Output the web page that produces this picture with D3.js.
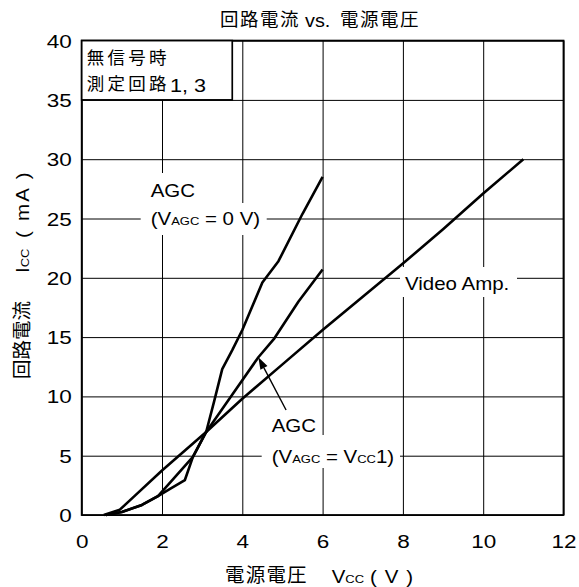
<!DOCTYPE html>
<html>
<head>
<meta charset="utf-8">
<script src="https://cdn.jsdelivr.net/npm/d3@7"></script>
<style>
  html, body { margin: 0; padding: 0; background: #fff; }
  svg { display: block; }
</style>
</head>
<body>
<svg id="chart" width="579" height="587"></svg>
<script>
// Supply voltage (V) vs. circuit current (mA)
const xTicks = [0, 2, 4, 6, 8, 10, 12];
const yTicks = [0, 5, 10, 15, 20, 25, 30, 35, 40];

// [Vcc (V), Icc (mA)]
const videoAmp = [
  [0.55, 0], [0.95, 0.45], [1.3, 1.55], [2, 3.75], [3.1, 7.0], [4, 9.8],
  [5, 12.7], [6, 15.6], [7, 18.4], [8, 21.2], [9, 24.1], [10, 27.1], [11, 30]
];
const agcZero = [
  [0.6, 0], [1, 0.25], [1.5, 0.85], [1.9, 1.6], [2.2, 2.2], [2.57, 2.95],
  [2.77, 4.9], [3.1, 7.0], [3.3, 9.6], [3.5, 12.3], [3.75, 13.9], [4, 15.6],
  [4.25, 17.6], [4.5, 19.6], [4.9, 21.4], [5.5, 25.4], [6, 28.5]
];
const agcVcc1 = [
  [0.6, 0], [1, 0.25], [1.5, 0.85], [1.9, 1.6], [2.3, 3.1], [2.77, 4.9],
  [3.1, 7.0], [3.7, 9.9], [4.4, 13.3], [4.8, 14.9], [5.4, 18.0], [6, 20.7]
];
// arrow pointing at the VAGC = Vcc1 curve: [tail, tip]
const arrowPts = [[5.09, 8.85], [4.4, 13.3]];
// note box corner (data units)
const noteBox = { x0: 0, x1: 3.75, y0: 35, y1: 40 };

const LAT = '"Liberation Sans", Arial, Helvetica, sans-serif';
const CJK = '"Noto Sans CJK JP", "Noto Sans CJK SC", sans-serif';

const svg = d3.select("#chart");
const x = d3.scaleLinear().domain([0, 12]).range([81.7, 563.5]);
const y = d3.scaleLinear().domain([0, 40]).range([515, 40.6]);
const pw = x(12) - x(0), ph = y(0) - y(40);

// grid + tick labels via axes
const gx = svg.append("g")
  .attr("transform", `translate(0,${y(0)})`)
  .call(d3.axisBottom(x).tickValues(xTicks).tickSize(-ph).tickFormat(d3.format("d")));
const gy = svg.append("g")
  .attr("transform", `translate(${x(0)},0)`)
  .call(d3.axisLeft(y).tickValues(yTicks).tickSize(-pw).tickFormat(d3.format("d")));

[gx, gy].forEach(g => {
  g.select(".domain").remove();
  g.selectAll(".tick line").attr("stroke", "#000").attr("stroke-width", 1);
  g.selectAll(".tick text")
    .attr("fill", "#000")
    .style("font-family", LAT)
    .style("font-size", "18px");
});
gx.selectAll(".tick text")
  .attr("y", null).attr("dy", null)
  .attr("text-anchor", "middle")
  .attr("transform", "translate(0,33) scale(1.25,1)");
gy.selectAll(".tick text")
  .attr("x", null).attr("dy", null)
  .attr("text-anchor", "end")
  .attr("transform", "translate(-10,6.5) scale(1.25,1)");

// white backgrounds behind in-plot labels
const blanks = [
  [141, 173, 59, 30],
  [140.7, 203, 126, 32],
  [400, 267, 117, 30],
  [265, 412, 54, 23],
  [261.7, 435, 138.3, 33]
];
svg.append("g").selectAll("rect").data(blanks).join("rect")
  .attr("x", d => d[0]).attr("y", d => d[1])
  .attr("width", d => d[2]).attr("height", d => d[3])
  .attr("fill", "#fff");

// plot frame
svg.append("rect")
  .attr("x", x(0)).attr("y", y(40)).attr("width", pw).attr("height", ph)
  .attr("fill", "none").attr("stroke", "#000").attr("stroke-width", 1.8);

// curves
const line = d3.line().x(d => x(d[0])).y(d => y(d[1]));
svg.append("g").selectAll("path").data([videoAmp, agcZero, agcVcc1]).join("path")
  .attr("d", line)
  .attr("fill", "none").attr("stroke", "#000")
  .attr("stroke-width", 2.6).attr("stroke-linejoin", "round").attr("stroke-linecap", "butt");

// arrow
{
  const [t0, t1] = arrowPts.map(p => [x(p[0]), y(p[1])]);
  const dx = t1[0] - t0[0], dy = t1[1] - t0[1], len = Math.hypot(dx, dy);
  const ux = dx / len, uy = dy / len, hl = 12, hw = 4;
  const bx = t1[0] - ux * hl, by = t1[1] - uy * hl;
  svg.append("line")
    .attr("x1", t0[0]).attr("y1", t0[1]).attr("x2", bx).attr("y2", by)
    .attr("stroke", "#000").attr("stroke-width", 1.4);
  svg.append("path")
    .attr("d", `M${t1[0]},${t1[1]}L${bx - uy * hw},${by + ux * hw}L${bx + uy * hw},${by - ux * hw}Z`)
    .attr("fill", "#000");
}

// note box
svg.append("rect")
  .attr("x", x(noteBox.x0)).attr("y", y(noteBox.y1))
  .attr("width", x(noteBox.x1) - x(noteBox.x0)).attr("height", y(noteBox.y0) - y(noteBox.y1))
  .attr("fill", "#fff").attr("stroke", "#000").attr("stroke-width", 1.7);

// text helpers
function cjk(parent, s, px, py, size, ls) {
  return parent.append("text")
    .attr("x", px).attr("y", py)
    .style("font-family", CJK).style("font-size", size + "px")
    .style("letter-spacing", ls + "px")
    .attr("fill", "#000").text(s);
}
// Latin run; parts: [text, isSub]
function lat(parent, parts, px, py, size, sx) {
  const t = parent.append("text")
    .attr("transform", `translate(${px},${py}) scale(${sx},1)`)
    .style("font-family", LAT).style("font-size", size + "px")
    .attr("fill", "#000");
  parts.forEach(([s, sub]) => {
    const ts = t.append("tspan").text(s);
    if (sub) ts.style("font-size", "11.8px");
  });
  return t;
}

// title
cjk(svg, "回路電流", 220, 26, 18.5, 1.5);
lat(svg, [["vs."]], 305, 27, 18, 1.1);
cjk(svg, "電源電圧", 340, 26, 18.5, 1.5);

// note text
cjk(svg, "無信号時", 86.7, 63.5, 17.5, 3.3);
cjk(svg, "測定回路", 86.7, 90, 17.5, 3.3);
lat(svg, [["1, 3"]], 170, 91.5, 18, 1.2);

// curve labels
lat(svg, [["AGC"]], 150.7, 196.7, 18.6, 1.1);
lat(svg, [["(V"], ["AGC", true], [" = 0 V)"]], 150.7, 225, 18.6, 1.1);
lat(svg, [["AGC"]], 271.7, 431.7, 18.6, 1.1);
lat(svg, [["(V"], ["AGC", true], [" = V"], ["CC", true], ["1)"]], 271.7, 462.7, 18.6, 1.1);
lat(svg, [["Video Amp."]], 405, 289.5, 18.6, 1.1);

// x-axis title
cjk(svg, "電源電圧", 225, 581.5, 19.5, 1.2);
lat(svg, [["V"], ["CC", true]], 331.7, 582.5, 18.6, 1.1);
lat(svg, [["( V )"]], 370, 582.5, 18.6, 1.1).style("letter-spacing", "1px");

// y-axis title (reads bottom to top)
const yt = svg.append("g").attr("transform", "translate(28.5,379) rotate(-90)");
cjk(yt, "回路電流", 0, 0, 19.5, 0);
lat(yt, [["I"], ["CC", true]], 106, 0, 18.6, 1.1);
lat(yt, [["( mA )"]], 141, 0, 18.6, 1.1).style("letter-spacing", "2px");
</script>
</body>
</html>
